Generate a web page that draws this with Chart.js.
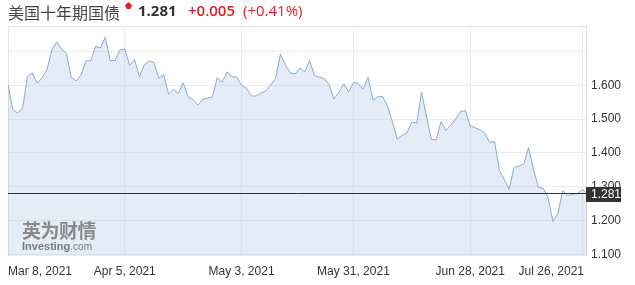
<!DOCTYPE html>
<html>
<head>
<meta charset="utf-8">
<script src="https://cdn.jsdelivr.net/npm/chart.js@4"></script>
<style>
body{margin:0;background:#fff;}
#wrap{position:relative;width:635px;height:285px;overflow:hidden;}
#yieldChart{position:absolute;left:0;top:0;}
.hd{position:absolute;top:0;height:26px;line-height:27px;white-space:nowrap;}
#name{left:8px;font:16px "Noto Sans CJK SC";color:#444;}
#arrow{position:absolute;left:125px;top:2px;width:7px;height:7px;background:#e0201e;
  clip-path:polygon(50% 0,100% 45%,75% 100%,25% 100%,0 45%);}
#price{left:138px;font:bold 15px "Open Sans";color:#333;}
#chg{left:188px;font:600 15px "Open Sans";color:#dd1f26;}
#pct{left:243px;font:15px "Open Sans";color:#dd1f26;}
#logo{position:absolute;left:22px;top:219px;color:#8a8a8a;}
#logo .cn{font:bold 19px "Noto Sans CJK SC";letter-spacing:-0.5px;line-height:21px;}
#logo .en{font:bold 11px "Liberation Sans";line-height:12px;color:#7a7a7a;}
#logo .en span{font-weight:normal;font-size:10px;}
</style>
</head>
<body>
<div id="wrap">
<canvas id="yieldChart" width="635" height="285"></canvas>
<div class="hd" id="name">美国十年期国债</div>
<div id="arrow"></div>
<div class="hd" id="price">1.281</div>
<div class="hd" id="chg">+0.005</div>
<div class="hd" id="pct">(+0.41%)</div>
<div id="logo"><div class="cn">英为财情</div><div class="en">Investing<span>.com</span></div></div>
</div>
<script>
// 10y yield, one value per session, Mar 8 -> Jul 27 2021
const yieldValues = [
  1.601,1.527,1.518,1.533,1.625,1.636,1.606,1.622,1.645,1.704,
  1.728,1.707,1.694,1.622,1.613,1.630,1.672,1.672,1.715,1.710,
  1.742,1.673,1.673,1.704,1.707,1.659,1.676,1.625,1.660,1.672,
  1.667,1.620,1.632,1.574,1.588,1.576,1.607,1.565,1.558,1.541,
  1.558,1.562,1.565,1.622,1.609,1.639,1.625,1.624,1.600,1.591,
  1.568,1.568,1.577,1.583,1.601,1.620,1.692,1.660,1.637,1.633,
  1.651,1.639,1.673,1.628,1.624,1.619,1.602,1.559,1.579,1.604,
  1.580,1.608,1.605,1.588,1.624,1.556,1.566,1.566,1.539,1.493,
  1.440,1.451,1.459,1.491,1.488,1.579,1.509,1.440,1.438,1.492,
  1.466,1.482,1.500,1.522,1.525,1.480,1.474,1.468,1.458,1.431,
  1.433,1.348,1.321,1.292,1.357,1.361,1.367,1.415,1.351,1.298,
  1.295,1.268,1.197,1.220,1.288,1.274,1.277,1.279,1.291,1.281
];

// session index where each date label sits
const xTickIndex = [0, 24, 48, 71, 95, 118];
const xTickLabels = ["Mar 8, 2021","Apr 5, 2021","May 3, 2021","May 31, 2021","Jun 28, 2021","Jul 26, 2021"];

const yTicks = [1.1, 1.2, 1.3, 1.4, 1.5, 1.6, 1.7];
const yTickLabels = ["1.100","1.200","1.300","1.400","1.500","1.600",""];

const lastValue = yieldValues[yieldValues.length - 1];

const overlay = {
    id: "overlay",
    beforeDatasetsDraw(chart){
        const {ctx, chartArea: a} = chart;
        ctx.save();
        ctx.strokeStyle = "#e2e2e2";
        ctx.lineWidth = 1;
        ctx.beginPath();
        ctx.moveTo(a.left + 0.5, a.bottom);
        ctx.lineTo(a.left + 0.5, a.top + 0.5);
        ctx.lineTo(a.right - 0.5, a.top + 0.5);
        ctx.lineTo(a.right - 0.5, a.bottom);
        ctx.stroke();
        ctx.restore();
    },
    afterDraw(chart){
        const {ctx, chartArea: a, scales: {x, y}} = chart;
        ctx.save();

        // current value line + tag
        const py = Math.round(y.getPixelForValue(lastValue)) + 0.5;
        ctx.strokeStyle = "#333";
        ctx.lineWidth = 1;
        ctx.beginPath();
        ctx.moveTo(a.left, py);
        ctx.lineTo(a.right, py);
        ctx.stroke();

        ctx.fillStyle = "#333";
        ctx.fillRect(a.right - 1, py - 6.5, 35, 15);
        ctx.fillStyle = "#fff";
        ctx.font = "12px 'Liberation Sans'";
        ctx.textAlign = "left";
        ctx.textBaseline = "middle";
        ctx.fillText(lastValue.toFixed(3), a.right + 4, py + 1);

        // date labels, kept inside the plot width
        ctx.fillStyle = "#333";
        ctx.textAlign = "center";
        xTickIndex.forEach((v, i) => {
            const w = ctx.measureText(xTickLabels[i]).width;
            let px = x.getPixelForValue(v);
            px = Math.max(px, a.left + w / 2);
            px = Math.min(px, a.right - 3 - w / 2);
            ctx.fillText(xTickLabels[i], px, 272);
        });
        ctx.restore();
    }
};

const ctx = document.getElementById("yieldChart").getContext("2d");

new Chart(ctx, {
    type: "line",
    data: {
        datasets: [{
            data: yieldValues.map((v, i) => ({x: i, y: v})),
            borderColor: "#86aad0",
            borderWidth: 1,
            backgroundColor: "rgba(170,200,230,0.32)",
            fill: "start",
            pointRadius: 0,
            tension: 0
        }]
    },
    options: {
        responsive: false,
        animation: false,
        devicePixelRatio: 1,
        layout: {padding: {top: 26, left: 8, right: 0, bottom: 0}},
        plugins: {legend: {display: false}, tooltip: {enabled: false}},
        scales: {
            x: {
                type: "linear",
                min: 0,
                max: yieldValues.length - 1,
                afterBuildTicks: s => { s.ticks = xTickIndex.map(v => ({value: v})); },
                afterFit: s => { s.height = 29; },
                grid: {color: "#ececec", drawTicks: false},
                border: {display: false},
                ticks: {display: false}
            },
            y: {
                position: "right",
                min: 1.095,
                max: 1.775,
                afterBuildTicks: s => { s.ticks = yTicks.map(v => ({value: v})); },
                afterFit: s => { s.width = 48; },
                grid: {color: "#ececec", drawTicks: false},
                border: {display: false},
                ticks: {
                    padding: 4,
                    crossAlign: "near",
                    color: "#333",
                    font: {family: "Liberation Sans", size: 12},
                    callback: (v, i) => yTickLabels[i]
                }
            }
        }
    },
    plugins: [overlay]
});
</script>
</body>
</html>
